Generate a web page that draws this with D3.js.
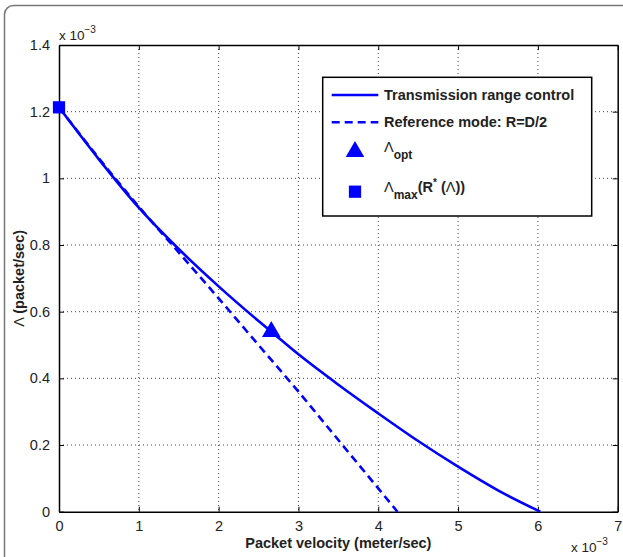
<!DOCTYPE html>
<html><head><meta charset="utf-8">
<script src="https://cdn.jsdelivr.net/npm/d3@7/dist/d3.min.js"></script>
<style>
body{margin:0;background:#fff;}
svg{display:block;font-family:"Liberation Sans",Arial,Helvetica,sans-serif;}
</style></head>
<body>
<script>
// Data (x in 1e-3 meter/sec, y in 1e-3 packet/sec)
const solidX = [0, 0.5, 1, 1.5, 2, 2.5, 2.66, 3, 3.5, 4, 4.5, 5, 5.5, 6.03];
const solidY = [1.213, 1.057, 0.912, 0.788, 0.676, 0.572, 0.54, 0.472, 0.381, 0.295, 0.212, 0.135, 0.064, 0];
const dashX = [0, 0.5, 1, 1.5, 2, 2.5, 3, 3.5, 4, 4.24];
const dashY = [1.213, 1.06, 0.915, 0.778, 0.64, 0.50, 0.36, 0.215, 0.07, 0];
const optPoint = [2.66, 0.54];
const maxPoint = [0, 1.213];
const xTicks = [0, 1, 2, 3, 4, 5, 6, 7];
const yTicks = [0, 0.2, 0.4, 0.6, 0.8, 1, 1.2, 1.4];
const legendLabels = ["Transmission range control", "Reference mode: R=D/2"];

const W = 623, H = 557;
const L = 59, R = 617.7, T = 45, B = 511.7;
const blue = "#0000ff";
const labelSize = 14.5;

const svg = d3.select("body").append("svg").attr("width", W).attr("height", H);
svg.append("rect").attr("width", W).attr("height", H).attr("fill", "#fff");
// figure frame
svg.append("rect").attr("x", 4.5).attr("y", 5.5).attr("width", W + 20).attr("height", H + 20)
  .attr("rx", 9).attr("fill", "none").attr("stroke", "#777").attr("stroke-width", 1.5);

const x = d3.scaleLinear().domain([0, 7]).range([L, R]);
const y = d3.scaleLinear().domain([0, 1.4]).range([B, T]);

// grid
const g = svg.append("g");
g.selectAll(".gx").data(xTicks.slice(1, -1)).join("line")
  .attr("x1", d => x(d)).attr("x2", d => x(d)).attr("y1", T).attr("y2", B)
  .attr("stroke", "#444").attr("stroke-width", 1).attr("stroke-dasharray", "1,3");
g.selectAll(".gy").data(yTicks.slice(1, -1)).join("line")
  .attr("y1", d => y(d)).attr("y2", d => y(d)).attr("x1", L).attr("x2", R)
  .attr("stroke", "#444").attr("stroke-width", 1).attr("stroke-dasharray", "1,3");

// axes
const xAxis = d3.axisBottom(x).tickValues(xTicks).tickSizeInner(-5).tickSizeOuter(0).tickPadding(9).tickFormat(d3.format("d"));
const yAxis = d3.axisLeft(y).tickValues(yTicks).tickSizeInner(-5).tickSizeOuter(0).tickPadding(9).tickFormat(d => d === 0 ? "0" : d3.format("~g")(d));
const xTop = d3.axisTop(x).tickValues(xTicks).tickSizeInner(-5).tickSizeOuter(0).tickFormat("");
const yRight = d3.axisRight(y).tickValues(yTicks).tickSizeInner(-5).tickSizeOuter(0).tickFormat("");

function styleAxis(sel) {
  sel.select(".domain").attr("stroke", "#000").attr("stroke-width", 1.5);
  sel.selectAll(".tick line").attr("stroke", "#000");
  sel.selectAll(".tick text").attr("fill", "#222").attr("font-size", 14.5);
}
svg.append("g").attr("transform", `translate(0,${B})`).call(xAxis).call(styleAxis);
svg.append("g").attr("transform", `translate(${L},0)`).call(yAxis).call(styleAxis);
svg.append("g").attr("transform", `translate(0,${T})`).call(xTop).call(styleAxis);
svg.append("g").attr("transform", `translate(${R},0)`).call(yRight).call(styleAxis);

// exponent labels
function expLabel(px, py) {
  const t = svg.append("text").attr("x", px).attr("y", py).attr("font-size", 13.5).attr("fill", "#222");
  t.append("tspan").text("x 10");
  t.append("tspan").attr("font-size", 10).attr("dy", -7).text("−3");
}
expLabel(59, 40);
expLabel(571, 552);

// axis titles
svg.append("text").attr("x", (L + R) / 2).attr("y", 548).attr("text-anchor", "middle")
  .attr("font-size", labelSize).attr("font-weight", "bold").attr("fill", "#222").text("Packet velocity (meter/sec)");
const yl = svg.append("text").attr("transform", `translate(24,${(T + B) / 2}) rotate(-90)`)
  .attr("text-anchor", "middle").attr("font-size", labelSize).attr("fill", "#222");
yl.append("tspan").text("Λ ");
yl.append("tspan").attr("font-weight", "bold").text("(packet/sec)");

// data lines
const line = d3.line().x(d => x(d[0])).y(d => y(d[1])).curve(d3.curveMonotoneX);
svg.append("path").datum(dashX.map((v, i) => [v, dashY[i]])).attr("d", line)
  .attr("fill", "none").attr("stroke", blue).attr("stroke-width", 2.6).attr("stroke-dasharray", "8,5");
svg.append("path").datum(solidX.map((v, i) => [v, solidY[i]])).attr("d", line)
  .attr("fill", "none").attr("stroke", blue).attr("stroke-width", 2.6);

// markers
const tri = d3.symbol().type(d3.symbolTriangle).size(150);
const sq = d3.symbol().type(d3.symbolSquare).size(150);
svg.append("path").attr("d", tri).attr("transform", `translate(${x(optPoint[0])},${y(optPoint[1])})`).attr("fill", blue);
svg.append("path").attr("d", sq).attr("transform", `translate(${x(maxPoint[0])},${y(maxPoint[1])})`).attr("fill", blue);

// legend
const lg = svg.append("g");
lg.append("rect").attr("x", 322.7).attr("y", 77.3).attr("width", 269).attr("height", 138.7)
  .attr("fill", "#fff").attr("stroke", "#000").attr("stroke-width", 1.5);
const rows = [95, 122.3, 151.7, 191.7];
lg.append("line").attr("x1", 331.7).attr("x2", 378.3).attr("y1", rows[0]).attr("y2", rows[0]).attr("stroke", blue).attr("stroke-width", 2.6);
lg.append("line").attr("x1", 331.7).attr("x2", 378.3).attr("y1", rows[1]).attr("y2", rows[1]).attr("stroke", blue).attr("stroke-width", 2.6).attr("stroke-dasharray", "8,5");
lg.append("path").attr("d", tri).attr("transform", `translate(355,${rows[2]})`).attr("fill", blue);
lg.append("path").attr("d", sq).attr("transform", `translate(355,${rows[3]})`).attr("fill", blue);
lg.selectAll(".lt").data(legendLabels).join("text").attr("x", 384).attr("y", (d, i) => rows[i] + 5)
  .attr("font-size", labelSize).attr("font-weight", "bold").attr("fill", "#222").text(d => d);
const t3 = lg.append("text").attr("x", 384).attr("y", rows[2]).attr("font-size", labelSize).attr("fill", "#222");
t3.append("tspan").text("Λ");
t3.append("tspan").attr("font-weight", "bold").attr("font-size", 12).attr("dy", 7).text("opt");
const t4 = lg.append("text").attr("x", 384).attr("y", rows[3]).attr("font-size", labelSize).attr("fill", "#222");
t4.append("tspan").text("Λ");
t4.append("tspan").attr("font-weight", "bold").attr("font-size", 12).attr("dy", 7).text("max");
t4.append("tspan").attr("font-weight", "bold").attr("dy", -7).text("(R");
t4.append("tspan").attr("font-weight", "bold").attr("font-size", 10).attr("dy", -6).text("*");
t4.append("tspan").attr("font-weight", "bold").attr("dy", 6).text(" (");
t4.append("tspan").text("Λ");
t4.append("tspan").attr("font-weight", "bold").text("))");
</script>
</body></html>
